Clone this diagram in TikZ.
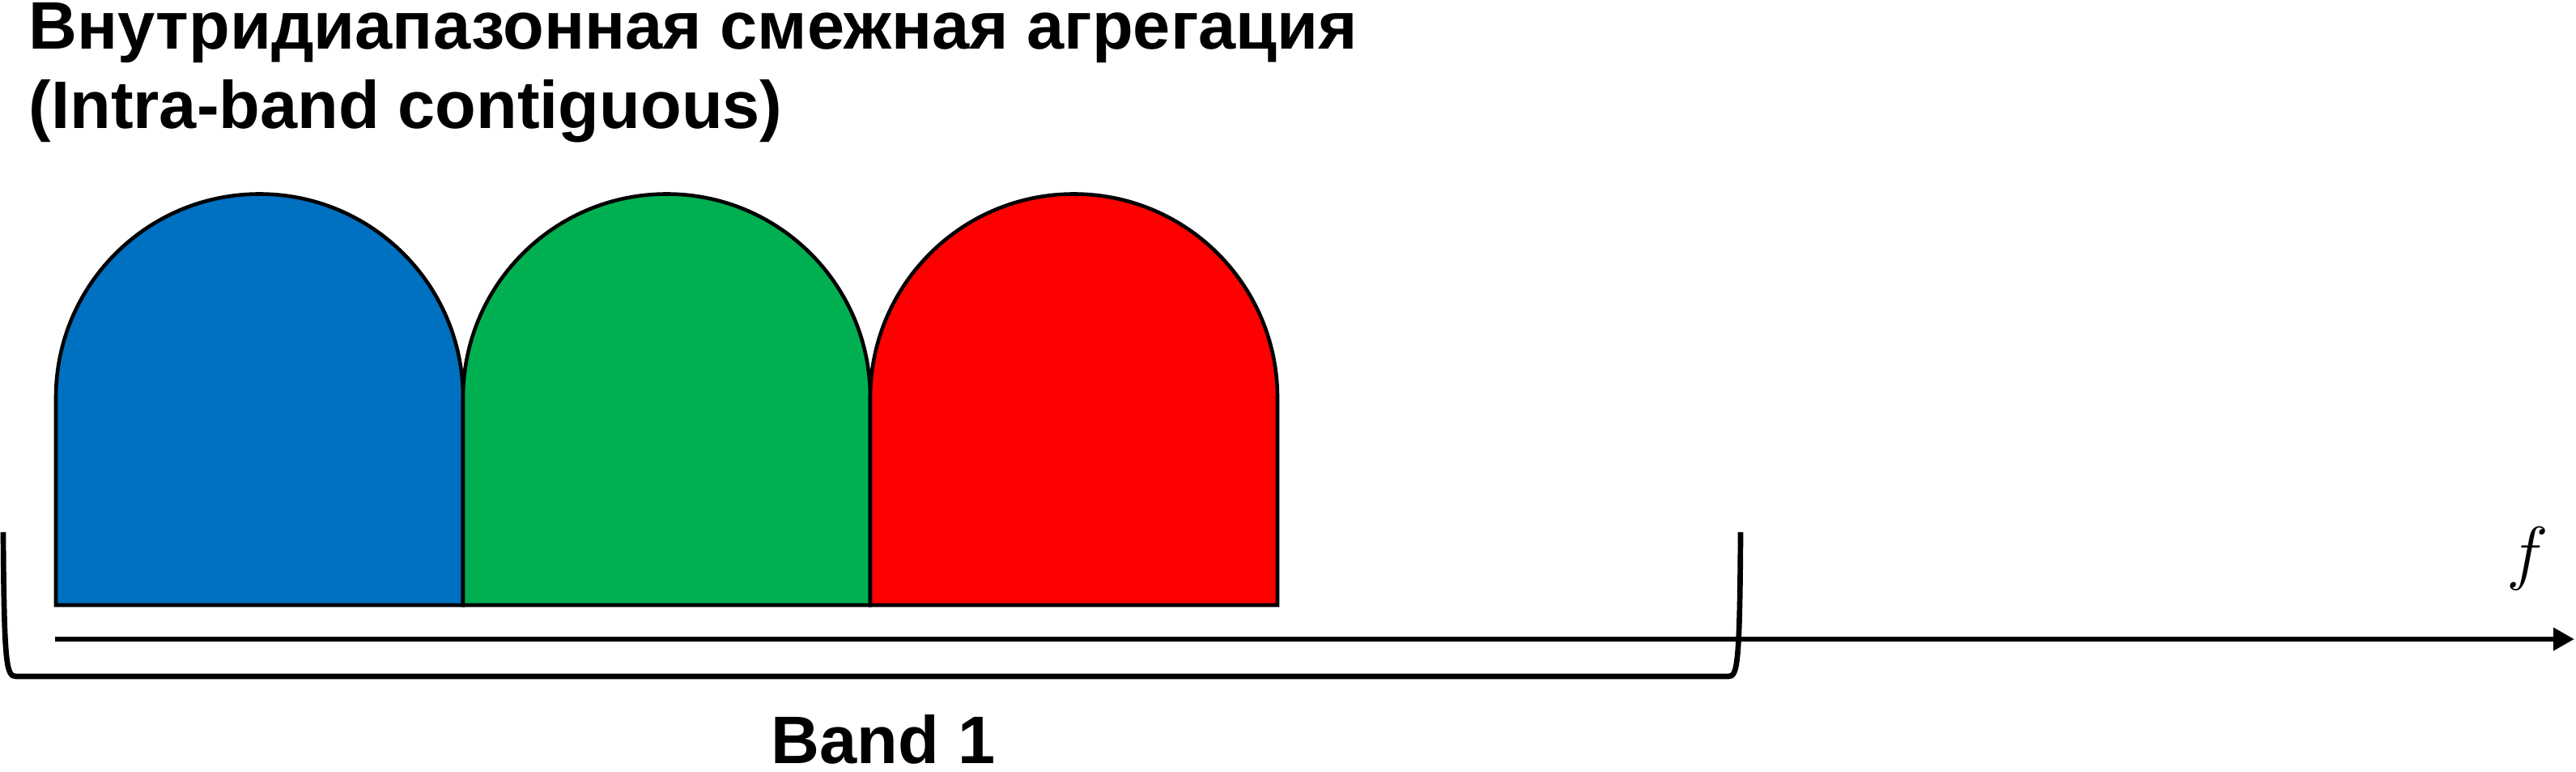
\documentclass[tikz,border=0pt]{standalone}
\usepackage{xcolor}
\usepackage{amsmath}
\usepackage{fontspec}
\setsansfont{Liberation Sans}
\usepackage{tikz}
\usetikzlibrary{arrows.meta}
\definecolor{carrierblue}{RGB}{0, 112, 192}
\definecolor{carriergreen}{RGB}{0, 176, 80}
\definecolor{carrierred}{RGB}{255, 0, 0}

\begin{document}
\begin{tikzpicture}[
        labelfont/.style={font=\sffamily\bfseries\fontsize{23.6}{28}\selectfont, inner sep=0pt},
        carrier/.style={draw=black, line width=1.3pt},
        axisline/.style={line width=1.9pt, -{Triangle[length=0.26cm, width=0.27cm]}}
    ]
        \useasboundingbox (0,0) rectangle (31.82,9.53);

        % 标题
        \node[labelfont, anchor=base west] (title) at (0.35, 8.92) {Внутридиапазонная смежная агрегация};
        \node[labelfont, anchor=base west] (subtitle) at (0.35, 7.94) {(Intra-band contiguous)};

        % 三个载波
        \draw[carrier, fill=carrierblue] (0.69, 2.06) -- (0.69, 4.62) arc (180:0:2.515) -- (5.72, 2.06) -- cycle;
        \draw[carrier, fill=carriergreen] (5.72, 2.06) -- (5.72, 4.62) arc (180:0:2.515) -- (10.75, 2.06) -- cycle;
        \draw[carrier, fill=carrierred] (10.75, 2.06) -- (10.75, 4.62) arc (180:0:2.515) -- (15.78, 2.06) -- cycle;

        % 频率轴
        \coordinate (axisstart) at (0.68, 1.64);
        \coordinate (axisend) at (31.80, 1.64);
        \draw[axisline] (axisstart) -- (axisend);
        \node[font=\fontsize{24.7}{29}\selectfont, inner sep=0pt] (freq) at (31.22, 2.63) {$f$};

        % 频带括号
        \draw[line width=1.9pt] (0.04, 2.96) .. controls (0.05, 1.30) and (0.08, 1.18) .. (0.20, 1.18)
            -- (21.35, 1.18) .. controls (21.46, 1.18) and (21.49, 1.30) .. (21.50, 2.96);
        \node[labelfont, anchor=base] (band) at (10.91, 0.10) {Band 1};

    \end{tikzpicture}
\end{document}
